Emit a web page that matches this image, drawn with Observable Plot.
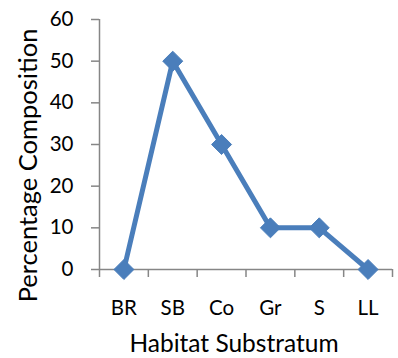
<!DOCTYPE html>
<html><head><meta charset="utf-8">
<script src="https://cdn.jsdelivr.net/npm/d3@7"></script>
<script src="https://cdn.jsdelivr.net/npm/@observablehq/plot@0.6"></script>
<style>body{margin:0;background:#fff}svg{font-family:Lato,"Open Sans",sans-serif}</style>
</head><body><div id="c"></div>
<script>
const categories = ["BR","SB","Co","Gr","S","LL"];
const values = [0,50,30,10,10,0];
const yTicks = [0,10,20,30,40,50,60];
const data = categories.map((c,i)=>({i, c, v: values[i]}));
const bounds = d3.range(categories.length+1).map(k=>k-0.5);
const col = "#4a7ebb", axc = "#868686";
const chart = Plot.plot({
  width: 398, height: 358,
  marginLeft: 99, marginRight: 6, marginTop: 19, marginBottom: 89,
  style: {fontFamily: "Lato, 'Open Sans', sans-serif", fontSize: "20px", color: "#000", background: "#fff"},
  x: {type: "linear", domain: [-0.5, categories.length-0.5]},
  y: {domain: [0, 60]},
  marks: [
    Plot.ruleX([-0.5], {stroke: axc, strokeWidth: 1.5}),
    Plot.ruleY([0], {stroke: axc, strokeWidth: 1.5}),
    Plot.axisY({ticks: yTicks, tickSize: 8, stroke: axc, strokeWidth: 1.5, tickPadding: 18, fontSize: 20.5, fill: "#000", label: null}),
    Plot.axisX({ticks: bounds, tickSize: 8, stroke: axc, strokeWidth: 1.5, tickFormat: ()=>"", label: null}),
    Plot.axisX({ticks: d3.range(categories.length), tickSize: 0, tickPadding: 31, tickFormat: i=>categories[i], fontSize: 20.5, fill: "#000", label: null}),
    Plot.line(data, {x: "i", y: "v", stroke: col, strokeWidth: 5}),
    Plot.dot(data, {x: "i", y: "v", symbol: "diamond2", r: 9, fill: col, stroke: col, strokeWidth: 1}),
    Plot.text(["Habitat Substratum"], {frameAnchor: "bottom", dx: -12, dy: 82, fontSize: 24.5, fill: "#000"}),
    Plot.text(["Percentage Composition"], {frameAnchor: "left", textAnchor: "middle", dx: -71, dy: 21, rotate: -90, fontSize: 25.5, fill: "#000"})
  ]
});
document.getElementById("c").appendChild(chart);
</script></body></html>
